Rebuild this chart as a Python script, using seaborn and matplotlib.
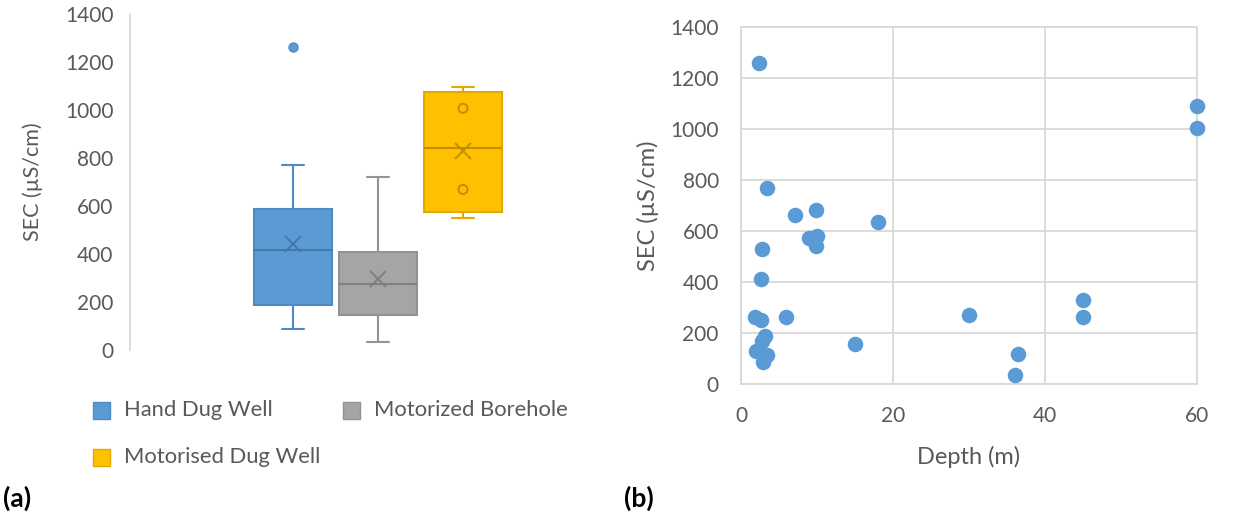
import numpy as np
import pandas as pd
import matplotlib
matplotlib.use("Agg")
import matplotlib.pyplot as plt
from matplotlib.patches import Rectangle
import seaborn as sns

# ---------------- data ----------------
types = ["Hand Dug Well", "Motorized Borehole", "Motorised Dug Well"]
hand_dug_sec = [89, 114, 130, 186, 252, 265, 415, 500, 530, 586, 619, 772, 1262]
borehole_sec = [35, 116, 147, 155, 276, 329, 410, 456, 722]
motorised_sec = [549, 577, 840, 1076, 1097]
motorised_inner = [669, 1007]

depth_m = [2.4, 60, 60, 3.4, 7.1, 9.9, 18, 8.9, 10, 9.9, 2.8, 2.6, 1.9, 2.6,
           5.9, 30, 45, 45, 3.1, 2.8, 2.0, 3.4, 2.9, 15, 36.5, 36]
sec_scatter = [1258, 1092, 1003, 768, 663, 684, 635, 573, 581, 542, 529, 413, 262, 250,
               263, 270, 329, 264, 188, 168, 130, 112, 87, 155, 116, 34]

yticks = [0, 200, 400, 600, 800, 1000, 1200, 1400]
xticks = [0, 20, 40, 60]

fill_c = ["#5B9BD5", "#A5A5A5", "#FFC000"]
edge_c = ["#4E8BC6", "#939393", "#E2A900"]
mid_c = ["#4477AA", "#7F7F7F", "#BF8F00"]
grid_c = "#D9D9D9"
text_c = "#595959"

sns.set_theme(style="white")
plt.rcParams["font.family"] = ["Lato", "DejaVu Sans"]

W, H = 1242, 519
fig = plt.figure(figsize=(W / 100, H / 100), dpi=100)

def axes_px(l, r, t, b):
    return fig.add_axes([l / W, 1 - b / H, (r - l) / W, (b - t) / H])

# ---------------- (a) box plot ----------------
ax1 = axes_px(130, 626, 14, 350)
df_box = pd.DataFrame({
    "Type": [types[0]] * len(hand_dug_sec) + [types[1]] * len(borehole_sec)
            + [types[2]] * len(motorised_sec),
    "SEC": hand_dug_sec + borehole_sec + motorised_sec,
})
sns.boxplot(data=df_box, x="Type", y="SEC", hue="Type", order=types, hue_order=types,
            palette=fill_c, saturation=1, width=0.918, whis=1.5, linewidth=1.5,
            showmeans=True, fliersize=6.5, capwidths=0.26, legend=False, ax=ax1,
            meanprops=dict(marker="x", markersize=11, markeredgewidth=1.4))

for i, bc in enumerate(ax1.containers):
    for b in bc.boxes:
        b.set_facecolor(fill_c[i])
        b.set_edgecolor(edge_c[i])
        b.set_linewidth(1.5)
    for l in list(bc.whiskers) + list(bc.caps):
        l.set_color(edge_c[i])
        l.set_linewidth(1.5)
    for l in bc.medians:
        l.set_color(mid_c[i])
        l.set_linewidth(1.5)
    for l in bc.means:
        l.set_markeredgecolor(mid_c[i])
        l.set_markerfacecolor(mid_c[i])
    for l in bc.fliers:
        l.set_markerfacecolor(fill_c[i])
        l.set_markeredgecolor(edge_c[i])

sns.stripplot(x=[types[2]] * len(motorised_inner), y=motorised_inner, order=types,
              jitter=False, marker="o", size=6.5, color="none", edgecolor=mid_c[2],
              linewidth=1.4, ax=ax1, zorder=5)

ax1.set_xlim(-1.918, 3.918)
ax1.set_ylim(0, 1400)
ax1.set_yticks(yticks)
ax1.set_xticks([])
ax1.set_xlabel("")
ax1.set_ylabel("SEC (µS/cm)", fontsize=15.5, color=text_c)
ax1.yaxis.label.set_va("center")
ax1.yaxis.set_label_coords((33 - 130) / 496, 0.5)
ax1.tick_params(axis="y", length=0, pad=12, labelsize=15, labelcolor=text_c)
for s in ["top", "right", "bottom"]:
    ax1.spines[s].set_visible(False)
ax1.spines["left"].set_color(grid_c)
ax1.spines["left"].set_linewidth(1.3)
ax1.grid(False)
ax1.set_facecolor("white")

# legend (manual, figure coordinates)
leg = [(types[0], 93, 410, 0), (types[1], 343, 410, 1), (types[2], 93, 457, 2)]
for name, x0, yc, i in leg:
    fig.patches.append(Rectangle((x0 / W, 1 - (yc + 8.5) / H), 17 / W, 17 / H,
                                 transform=fig.transFigure, facecolor=fill_c[i],
                                 edgecolor=edge_c[i], linewidth=1.0))
    fig.text((x0 + 31) / W, 1 - yc / H, name, fontsize=15.8, color=text_c,
             ha="left", va="center")

# ---------------- (b) scatter ----------------
ax2 = axes_px(741, 1197, 27, 384)
sns.scatterplot(x=depth_m, y=sec_scatter, s=125, color="#5B9BD5", linewidth=0,
                ax=ax2, clip_on=False, zorder=5)
ax2.set_xlim(0, 60)
ax2.set_ylim(0, 1400)
ax2.set_xticks(xticks)
ax2.set_yticks(yticks)
ax2.grid(True, color=grid_c, linewidth=1.3)
ax2.set_axisbelow(True)
for s in ax2.spines.values():
    s.set_color(grid_c)
    s.set_linewidth(1.3)
ax2.tick_params(axis="both", length=0, pad=16, labelsize=15, labelcolor=text_c)
ax2.set_ylabel("SEC (µS/cm)", fontsize=17, color=text_c)
ax2.yaxis.label.set_va("center")
ax2.yaxis.set_label_coords((648 - 741) / 456, 0.5)
ax2.set_xlabel("Depth (m)", fontsize=17, color=text_c)
ax2.xaxis.label.set_va("center")
ax2.xaxis.set_label_coords(0.498, (384 - 457) / 357)

fig.text(3 / W, 1 - 498 / H, "(a)", fontsize=19, fontweight="bold", color="black",
         ha="left", va="center")
fig.text(624 / W, 1 - 498 / H, "(b)", fontsize=19, fontweight="bold", color="black",
         ha="left", va="center")

fig.savefig("out.png", dpi=100, facecolor="white")
